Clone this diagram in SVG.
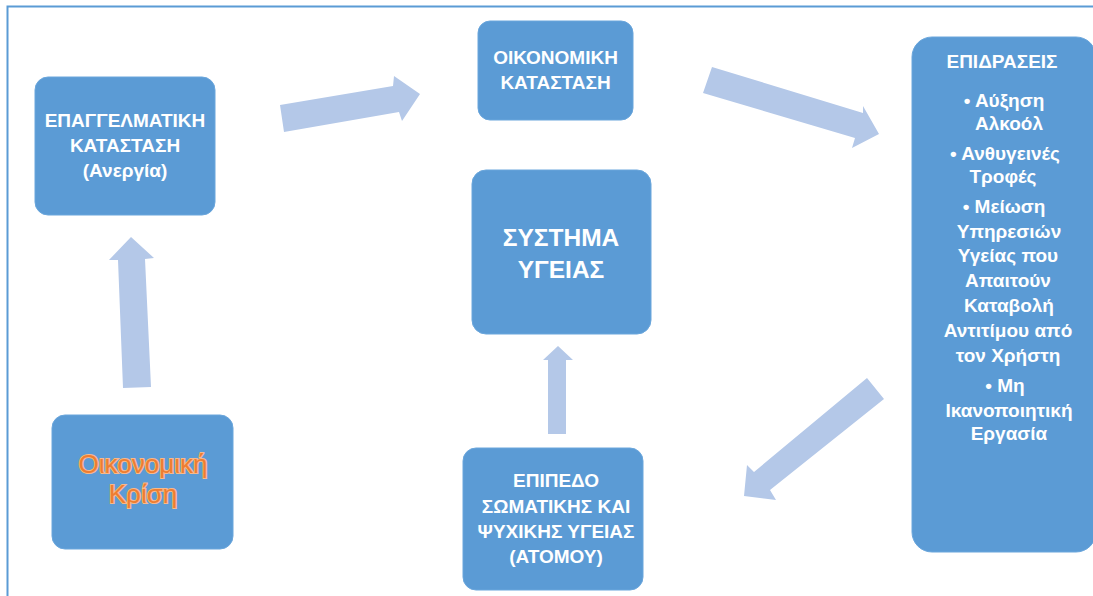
<svg xmlns="http://www.w3.org/2000/svg" width="1093" height="596" viewBox="0 0 1093 596">
<style>
.box{fill:#5b9bd5;stroke:#6aa6dc;stroke-width:1}
.arr{fill:#b4c8e8}
.t{font-family:"Liberation Sans",Arial,sans-serif;font-weight:bold;font-size:19px;fill:#ffffff;text-anchor:middle}
.big{font-size:24.5px}
.crisis{font-family:"Liberation Sans",Arial,sans-serif;font-size:26px;fill:#ee7d31;stroke:#f8b98a;stroke-width:2.2;paint-order:stroke;text-anchor:middle}
</style>
<rect width="1093" height="596" fill="#ffffff"/>
<path d="M7.5,596 V6.5 H1093" fill="none" stroke="#5b9bd5" stroke-width="2"/>
<g id="connectors">
<polygon class="arr" points="280,105 393,86 394,76 420,94 402,121 399,112 284,132"/>
<polygon class="arr" points="712,67 863,113 863,106 879,134 852,148 855,138 703,93"/>
<polygon class="arr" points="123,388 118,260 109,260 131,237 154,258 145,259 151,387"/>
<polygon class="arr" points="548,434 548,360 543,360 558,346 573,360 566,360 566,434"/>
<polygon class="arr" points="867,378 884,399 770,490 776,500 744,496 747,465 754,472"/>
</g>
<g id="node-epaggelmatiki">
<rect class="box" x="35" y="77" width="180" height="138" rx="13"/>
<text class="t" x="125" y="127">ΕΠΑΓΓΕΛΜΑΤΙΚΗ</text>
<text class="t" x="125" y="152">ΚΑΤΑΣΤΑΣΗ</text>
<text class="t" x="125" y="177">(Ανεργία)</text>
</g>
<g id="node-oikonomiki-katastasi">
<rect class="box" x="478" y="21" width="155" height="99" rx="12"/>
<text class="t" x="555.5" y="64">ΟΙΚΟΝΟΜΙΚΗ</text>
<text class="t" x="555.5" y="89">ΚΑΤΑΣΤΑΣΗ</text>
</g>
<g id="node-krisi">
<rect class="box" x="52" y="415" width="181" height="134" rx="13"/>
<text class="crisis" x="143" y="473">Οικονομική</text>
<text class="crisis" x="143" y="503">Κρίση</text>
</g>
<g id="node-systima">
<rect class="box" x="472" y="170" width="179" height="164" rx="14"/>
<text class="t big" x="561" y="246">ΣΥΣΤΗΜΑ</text>
<text class="t big" x="561" y="278">ΥΓΕΙΑΣ</text>
</g>
<g id="node-epipedo">
<rect class="box" x="463" y="448" width="180" height="142" rx="13"/>
<text class="t" x="556" y="487">ΕΠΙΠΕΔΟ</text>
<text class="t" x="556" y="513">ΣΩΜΑΤΙΚΗΣ ΚΑΙ</text>
<text class="t" x="556" y="538">ΨΥΧΙΚΗΣ ΥΓΕΙΑΣ</text>
<text class="t" x="556" y="563">(ΑΤΟΜΟΥ)</text>
</g>
<g id="node-epidraseis">
<rect class="box" x="912" y="37" width="184" height="515" rx="20"/>
<text class="t" x="1002" y="68">ΕΠΙΔΡΑΣΕΙΣ</text>
<text class="t" x="1004" y="107">• Αύξηση</text>
<text class="t" x="1009" y="130">Αλκοόλ</text>
<text class="t" x="1005" y="160">• Ανθυγεινές</text>
<text class="t" x="1003" y="183">Τροφές</text>
<text class="t" x="1004" y="213">• Μείωση</text>
<text class="t" x="1009" y="238">Υπηρεσιών</text>
<text class="t" x="1008" y="262">Υγείας που</text>
<text class="t" x="1008" y="287">Απαιτούν</text>
<text class="t" x="1009" y="312">Καταβολή</text>
<text class="t" x="1008" y="337">Αντιτίμου από</text>
<text class="t" x="1008" y="362">τον Χρήστη</text>
<text class="t" x="1005" y="392">• Μη</text>
<text class="t" x="1009" y="417">Ικανοποιητική</text>
<text class="t" x="1009" y="440">Εργασία</text>
</g>
</svg>
